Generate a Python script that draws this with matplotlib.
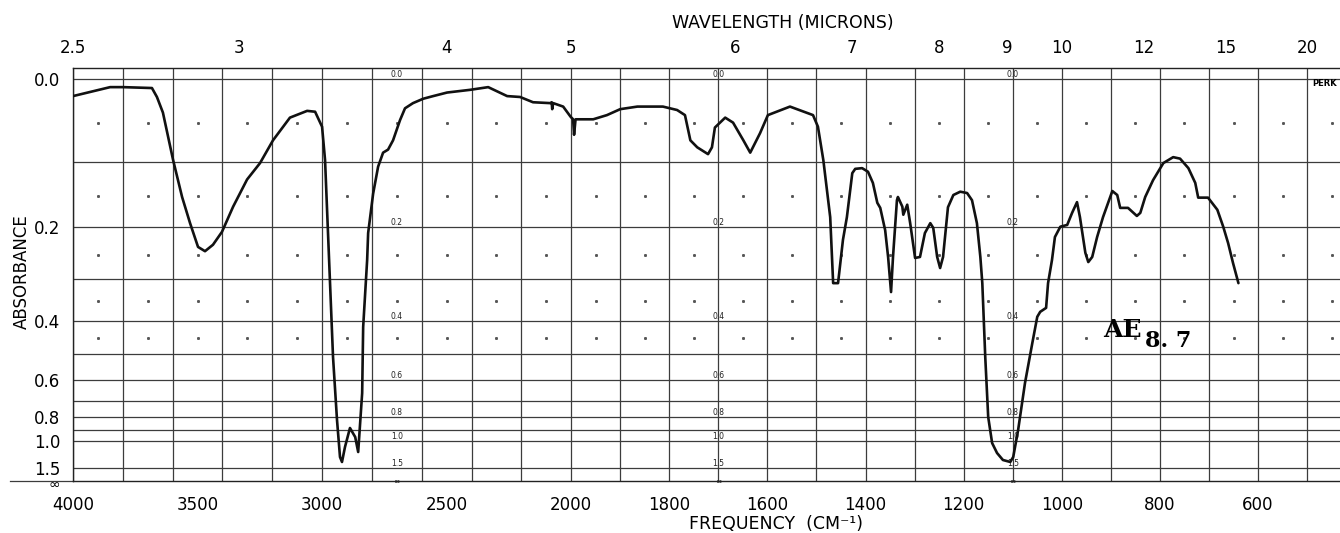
import numpy as np
import matplotlib.pyplot as plt
import matplotlib.transforms as mtransforms

# spectrum (cm-1, absorbance)
wavenumber = [4000, 3851, 3799, 3683, 3663, 3639, 3598, 3562, 3530, 3498, 3470, 3438, 3402,
              3357, 3301, 3249, 3197, 3129, 3060, 3028, 3000, 2988, 2976, 2956, 2940, 2928,
              2920, 2908, 2888, 2867, 2855, 2839, 2835, 2819, 2815, 2795, 2775, 2755, 2735,
              2715, 2687, 2667, 2635, 2594, 2554, 2498, 2406, 2333, 2257, 2205, 2153, 2084,
              2078, 2076, 2072, 2032, 2002, 1996, 1994, 1991, 1955, 1927, 1900, 1865, 1813,
              1784, 1768, 1757, 1743, 1721, 1713, 1707, 1686, 1670, 1649, 1635, 1615, 1599,
              1554, 1507, 1497, 1486, 1478, 1472, 1468, 1466, 1456, 1446, 1438, 1427, 1421,
              1407, 1395, 1385, 1376, 1370, 1360, 1354, 1348, 1344, 1336, 1334, 1325, 1323,
              1315, 1309, 1299, 1289, 1279, 1268, 1262, 1254, 1248, 1242, 1232, 1221, 1207,
              1193, 1183, 1173, 1166, 1162, 1156, 1150, 1142, 1132, 1120, 1105, 1099, 1089,
              1075, 1060, 1050, 1044, 1032, 1028, 1020, 1014, 1003, 989, 979, 969, 963, 952,
              946, 938, 928, 916, 897, 887, 881, 865, 847, 840, 830, 814, 793, 773, 759, 742,
              728, 722, 702, 683, 671, 661, 651, 640]
absorbance = [0.019, 0.009, 0.009, 0.010, 0.020, 0.038, 0.098, 0.151, 0.193, 0.235, 0.243, 0.231, 0.208,
              0.166, 0.125, 0.102, 0.072, 0.044, 0.036, 0.037, 0.055, 0.098, 0.210, 0.511, 0.819, 1.224,
              1.325, 1.073, 0.880, 0.961, 1.142, 0.660, 0.417, 0.260, 0.210, 0.146, 0.107, 0.088, 0.084,
              0.072, 0.047, 0.033, 0.027, 0.022, 0.019, 0.015, 0.012, 0.009, 0.019, 0.020, 0.026, 0.027,
              0.026, 0.034, 0.027, 0.031, 0.043, 0.046, 0.065, 0.046, 0.046, 0.041, 0.034, 0.031, 0.031,
              0.035, 0.041, 0.072, 0.081, 0.090, 0.081, 0.056, 0.044, 0.050, 0.072, 0.088, 0.063, 0.041,
              0.031, 0.041, 0.055, 0.098, 0.145, 0.183, 0.264, 0.308, 0.308, 0.222, 0.183, 0.116, 0.110,
              0.109, 0.114, 0.130, 0.160, 0.168, 0.205, 0.254, 0.328, 0.254, 0.156, 0.151, 0.166, 0.179,
              0.163, 0.193, 0.256, 0.254, 0.210, 0.193, 0.201, 0.254, 0.276, 0.254, 0.167, 0.148, 0.143,
              0.145, 0.156, 0.193, 0.254, 0.308, 0.511, 0.798, 1.025, 1.157, 1.282, 1.325, 1.224, 0.897,
              0.613, 0.464, 0.389, 0.376, 0.366, 0.308, 0.260, 0.217, 0.199, 0.196, 0.176, 0.159, 0.183, 0.246,
              0.264, 0.254, 0.217, 0.183, 0.142, 0.148, 0.168, 0.168, 0.181, 0.176, 0.151, 0.126, 0.102, 0.094, 0.096, 0.109,
              0.130, 0.152, 0.152, 0.171, 0.199, 0.228, 0.266, 0.308]

freq_ticks = [4000, 3500, 3000, 2500, 2000, 1800, 1600, 1400, 1200, 1000, 800, 600]
wl_ticks = [2.5, 3, 4, 5, 6, 7, 8, 9, 10, 12, 15, 20]
abs_ticks = [0.0, 0.2, 0.4, 0.6, 0.8, 1.0, 1.5, 12]
abs_labels = ['0.0', '0.2', '0.4', '0.6', '0.8', '1.0', '1.5', '∞']
abs_grid = [0.0, 0.1, 0.2, 0.3, 0.4, 0.5, 0.6, 0.7, 0.8, 0.9, 1.0, 1.5]
freq_grid = list(range(4000, 2000, -200)) + list(range(2000, 450, -100))
dot_freq = list(range(3900, 2000, -200)) + list(range(1950, 430, -100))
dot_abs = [0.05, 0.15, 0.25, 0.35, 0.45]
inner_freq = [2700, 1700, 1100]


# chart paper: 4000-2000 at half the scale of 2000-400
def fwd_x(nu):
    nu = np.asarray(nu, float)
    return np.where(nu >= 2000, nu / 200.0, 10 + (nu - 2000) / 100.0 * 0.985)


def inv_x(p):
    p = np.asarray(p, float)
    return np.where(p >= 10, p * 200.0, 2000 + (p - 10) * 100.0 / 0.985)


# linear in transmittance, labelled in absorbance
def fwd_y(a):
    return 1 - 10.0 ** (-np.asarray(a, float))


def inv_y(v):
    return -np.log10(np.clip(1 - np.asarray(v, float), 1e-15, None))


plt.rcParams['font.family'] = 'DejaVu Sans'
fig = plt.figure(figsize=(13.4, 5.33), dpi=100)
ax = fig.add_axes([73 / 1340, 1 - 481 / 533, 1 - 73 / 1340, 413 / 533])
ax.set_xscale('function', functions=(fwd_x, inv_x))
ax.set_yscale('function', functions=(fwd_y, inv_y))
ax.set_xlim(4000, 433)
ax.set_ylim(12, -0.0116)

gc = '#3c3c3c'
for f in freq_grid:
    ax.axvline(f, color=gc, lw=0.9, zorder=1)
for a in abs_grid:
    ax.axhline(a, color=gc, lw=0.9, zorder=1)
dx, dy = np.meshgrid(dot_freq, dot_abs)
ax.plot(dx.ravel(), dy.ravel(), ls='none', marker='s', ms=1.1, color='#555', zorder=1)

for f in inner_freq:
    for a, lab in zip(abs_ticks, abs_labels):
        ax.text(f, a, lab, fontsize=5.5, ha='center', va='bottom' if lab != '∞' else 'center',
                color='#222', zorder=2)

ax.plot(wavenumber, absorbance, color='#111', lw=1.9, solid_joinstyle='round',
        solid_capstyle='round', zorder=3)

ax.set_xticks(freq_ticks, [str(f) for f in freq_ticks])
ax.set_xticks([], minor=True)
ax.set_yticks(abs_ticks, abs_labels)
ax.set_yticks([], minor=True)
ax.tick_params(length=0, labelsize=12, pad=9)
ax.tick_params(axis='x', pad=11)
# the infinity label sits just under the 1.5 label
inf_label = ax.get_yticklabels()[-1]
inf_label.set_fontsize(10)
inf_label.set_va('top')
inf_label.set_transform(inf_label.get_transform() +
                        mtransforms.ScaledTranslation(0, 2 / 72, fig.dpi_scale_trans))
for s in ax.spines.values():
    s.set_color('#222')
    s.set_linewidth(1.0)
ax.spines['right'].set_visible(False)
ax.plot([-0.05, 0], [12, 12], color=gc, lw=0.9, clip_on=False,
        transform=ax.get_yaxis_transform())

top = ax.twiny()
top.set_xscale('function', functions=(fwd_x, inv_x))
top.set_xlim(ax.get_xlim())
top.set_xticks([1e4 / w for w in wl_ticks], [f'{w:g}' for w in wl_ticks])
top.set_xticks([], minor=True)
top.tick_params(length=0, labelsize=12, pad=8)
for s in top.spines.values():
    s.set_visible(False)

ax.text(916, 0.425, 'AE', fontsize=18, family='DejaVu Serif', weight='bold',
        ha='left', va='center', zorder=4)
ax.text(830, 0.458, '8. 7', fontsize=16, family='DejaVu Serif', weight='bold',
        ha='left', va='center', zorder=4)
ax.text(490, 0.005, 'PERK', fontsize=6, weight='bold', ha='left', va='center')

fig.text(783 / 1340, 1 - 23 / 533, 'WAVELENGTH (MICRONS)', fontsize=12.5, ha='center', va='center')
fig.text(776 / 1340, 1 - 524 / 533, 'FREQUENCY  (CM⁻¹)', fontsize=12.5, ha='center', va='center')
fig.text(22 / 1340, 1 - 272 / 533, 'ABSORBANCE', fontsize=12, rotation=90, ha='center', va='center')

fig.savefig('out.png', dpi=100)
